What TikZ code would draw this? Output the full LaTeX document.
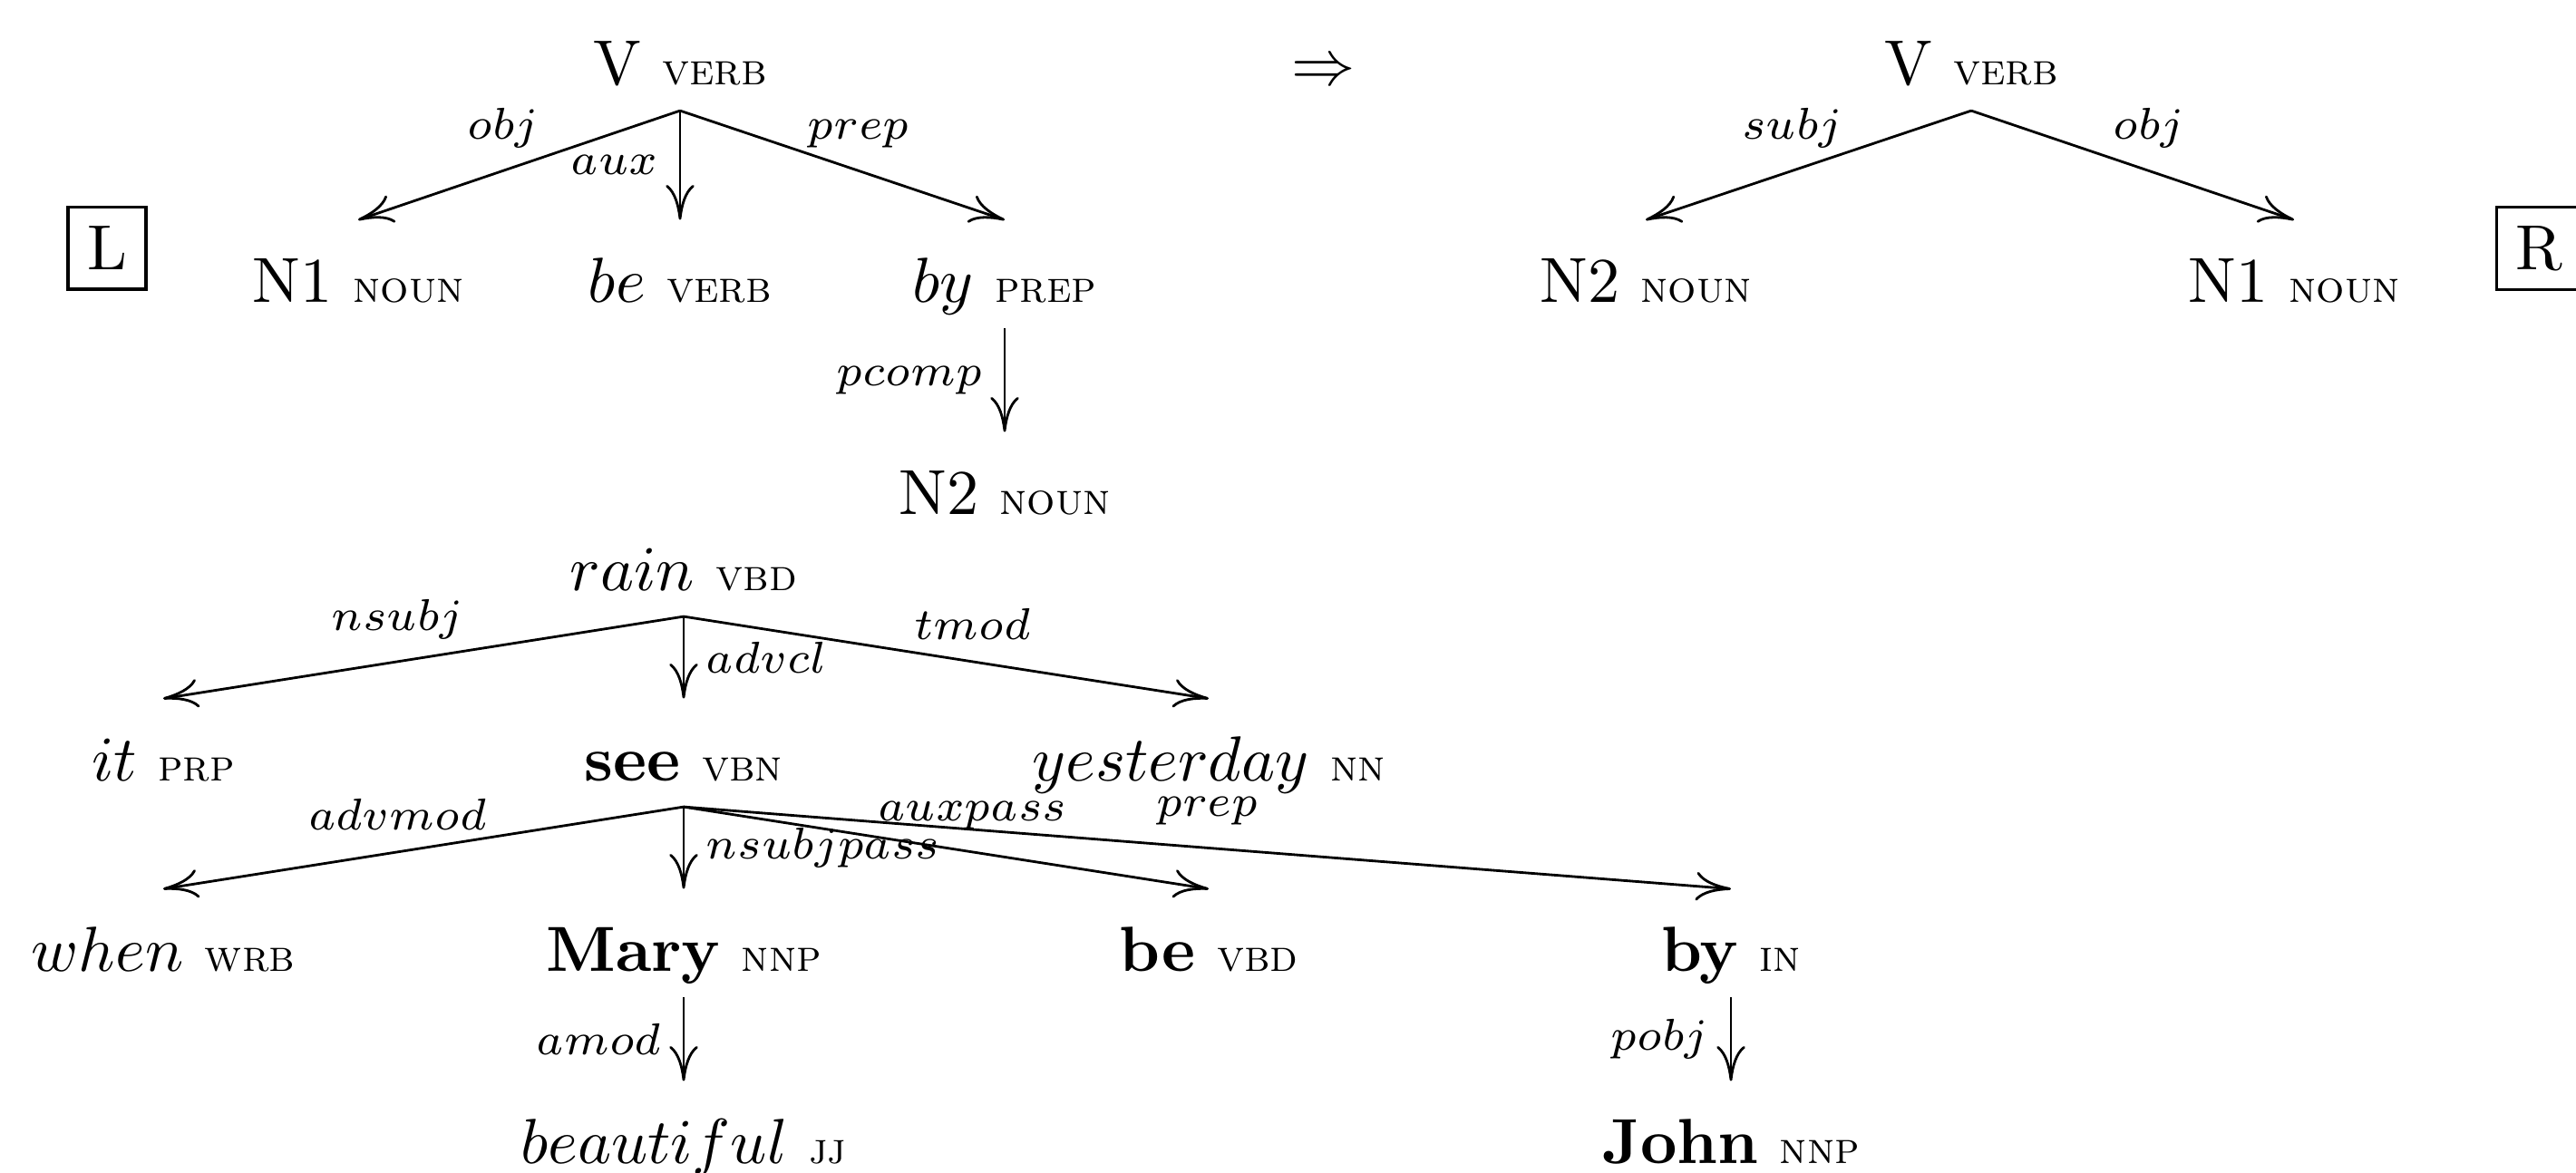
\documentclass[tikz,border=0pt]{standalone}
\usetikzlibrary{arrows.meta}

\newcommand{\postag}[1]{{\scriptsize\textsc{#1}}}

\begin{document}
\begin{tikzpicture}[
  word/.style={anchor=base, inner sep=3.4pt, text height=9.4pt, text depth=0.4pt},
  rel/.style={font=\scriptsize},
  dep/.style={-{To[length=5.5pt,width=4.5pt]}},
  side/.style={draw, line width=0.45pt, inner sep=3pt}
]
\useasboundingbox (0,0) rectangle (14.205,6.47);

% left hand side of the rule
\node[side] (L) at (0.59,5.10) {L};
\node[word] (lv)  at (3.75,6.00)  {V \postag{verb}};
\node[word] (ln1) at (1.975,4.80) {N1 \postag{noun}};
\node[word] (lbe) at (3.75,4.80)  {$be$ \postag{verb}};
\node[word] (lby) at (5.54,4.80)  {$by$ \postag{prep}};
\node[word] (ln2) at (5.54,3.63)  {N2 \postag{noun}};

\draw[dep] (lv.south) -- node[rel, above, pos=.55] {$obj$} (ln1.north);
\draw[dep] (lv.south) -- node[rel, left] {$aux$} (lbe.north);
\draw[dep] (lv.south) -- node[rel, above, pos=.55] {$prep$} (lby.north);
\draw[dep] (lby.south) -- node[rel, left] {$pcomp$} (ln2.north);

\node[anchor=base] (rw) at (7.30,6.00) {$\Rightarrow$};

% right hand side
\node[word] (rv)  at (10.87,6.00) {V \postag{verb}};
\node[word] (rn2) at (9.075,4.80) {N2 \postag{noun}};
\node[word] (rn1) at (12.65,4.80) {N1 \postag{noun}};
\node[side] (R) at (14.00,5.10) {R};

\draw[dep] (rv.south) -- node[rel, above, pos=.55] {$subj$} (rn2.north);
\draw[dep] (rv.south) -- node[rel, above, pos=.55] {$obj$} (rn1.north);

% parsed sentence
\node[word] (rain)  at (3.77,3.21)  {$rain$ \postag{vbd}};
\node[word] (it)    at (0.90,2.16)  {$it$ \postag{prp}};
\node[word] (see)   at (3.77,2.16)  {\textbf{see} \postag{vbn}};
\node[word] (yest)  at (6.665,2.16) {$yesterday$ \postag{nn}};
\node[word] (when)  at (0.90,1.11)  {$when$ \postag{wrb}};
\node[word] (mary)  at (3.77,1.11)  {\textbf{Mary} \postag{nnp}};
\node[word] (bevbd) at (6.665,1.11) {\textbf{be} \postag{vbd}};
\node[word] (byin)  at (9.545,1.11) {\textbf{by} \postag{in}};
\node[word] (beaut) at (3.77,0.05)  {$beautiful$ \postag{jj}};
\node[word] (john)  at (9.545,0.05) {\textbf{John} \postag{nnp}};

\draw[dep] (rain.south) -- node[rel, above, pos=.55] {$nsubj$} (it.north);
\draw[dep] (rain.south) -- node[rel, right] {$advcl$} (see.north);
\draw[dep] (rain.south) -- node[rel, above, pos=.55] {$tmod$} (yest.north);

\draw[dep] (see.south) -- node[rel, above, pos=.55] {$advmod$} (when.north);
\draw[dep] (see.south) -- node[rel, right] {$nsubjpass$} (mary.north);
\draw[dep] (see.south) -- node[rel, above, pos=.55] {$auxpass$} (bevbd.north);
\draw[dep] (see.south) -- node[rel, above, pos=.5] {$prep$} (byin.north);

\draw[dep] (mary.south) -- node[rel, left] {$amod$} (beaut.north);
\draw[dep] (byin.south) -- node[rel, left] {$pobj$} (john.north);

\end{tikzpicture}
\end{document}
